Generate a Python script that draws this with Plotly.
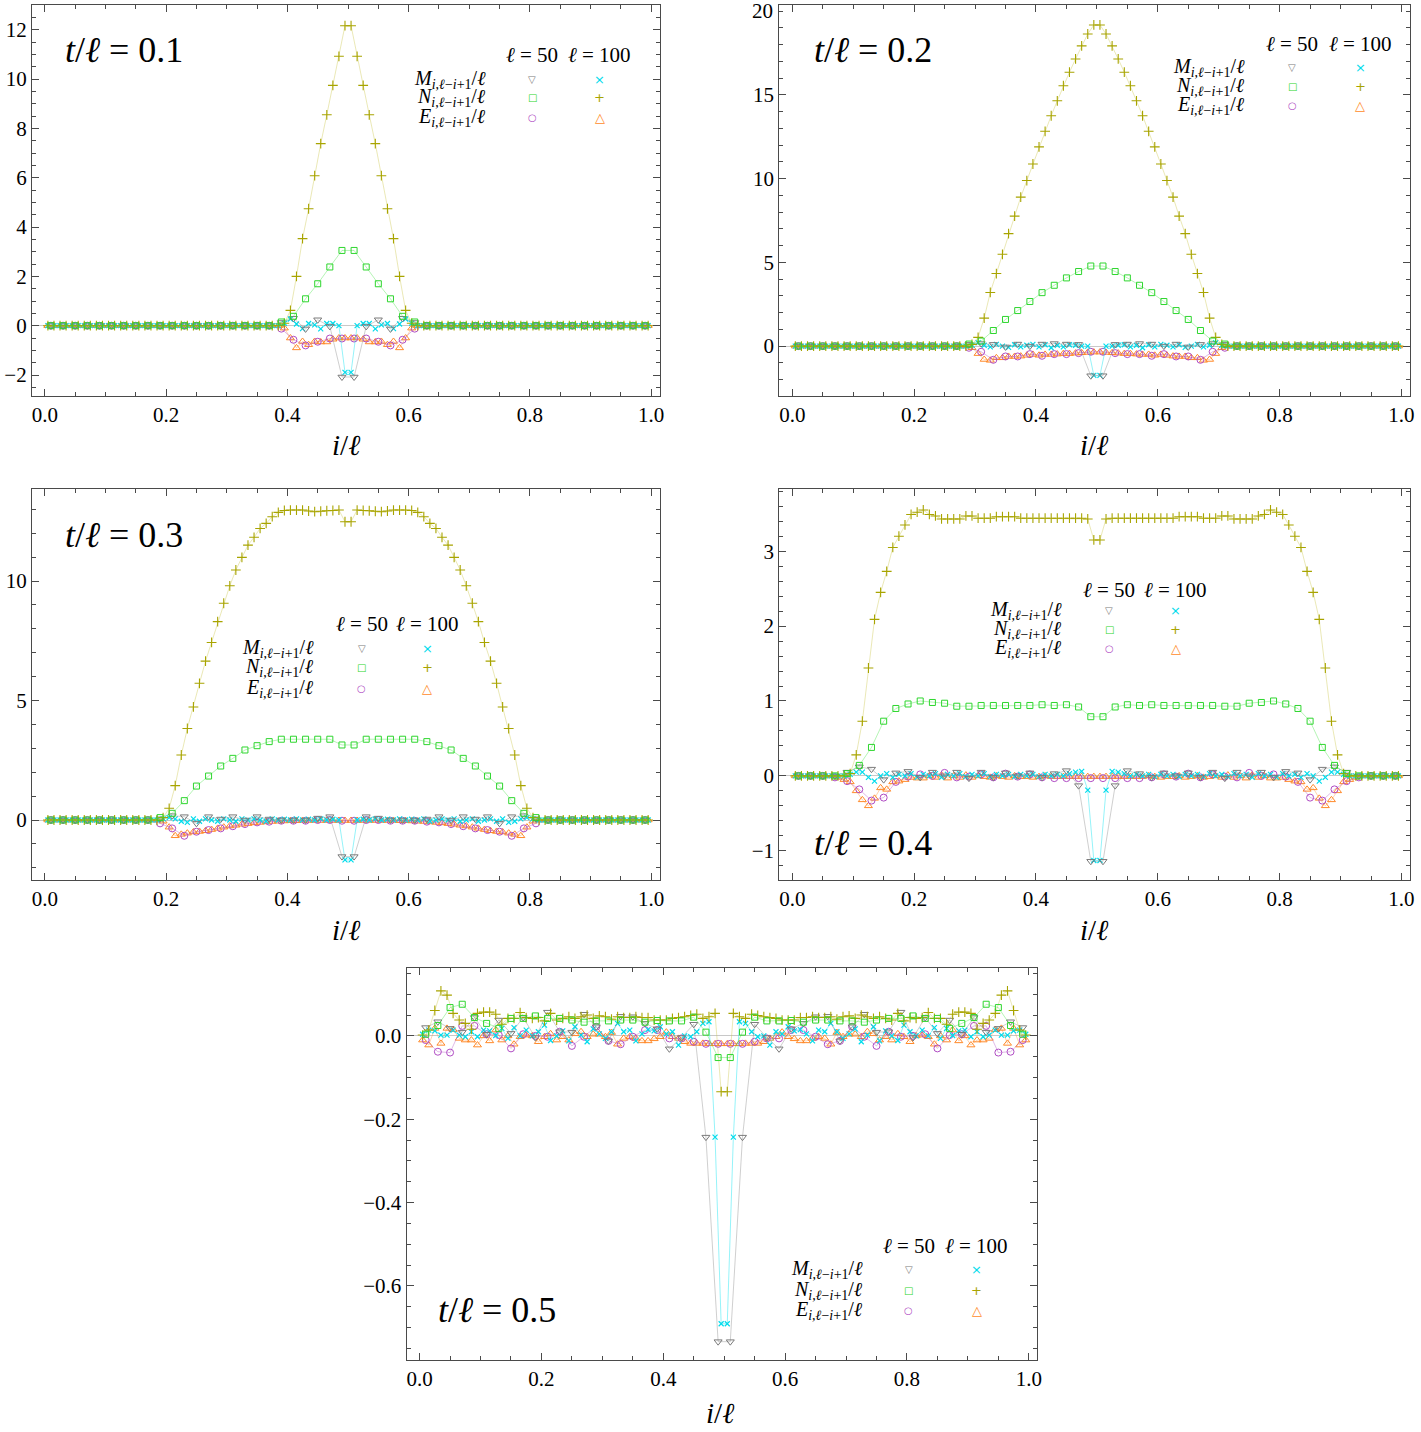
import plotly.graph_objects as go

W, H = 1421, 1432
SERIF = "Liberation Serif"

# ---------------- categories (site positions i/l) ----------------
X50 = [(j - 0.5) / 50 for j in range(1, 51)]
X100 = [(i - 0.5) / 100 for i in range(1, 101)]
T_VALUES = ["0.1", "0.2", "0.3", "0.4", "0.5"]

# ---------------- panel 1 : t/l = 0.1 ----------------
P1_M50 = [0.0] * 19 + [0.13, 0.3, -0.13, 0.24, -0.03, -2.08, -2.08, -0.03, 0.24, -0.13, 0.3, 0.13] + [0.0] * 19
P1_N50 = [0.0] * 19 + [0.15, 0.38, 1.09, 1.70, 2.38, 3.05, 3.05, 2.38, 1.70, 1.09, 0.38, 0.15] + [0.0] * 19
P1_E50 = [0.0] * 19 + [-0.12, -0.57, -0.8, -0.65, -0.52, -0.52, -0.52, -0.52, -0.65, -0.8, -0.57, -0.12] + [0.0] * 19
P1_M100 = [0.0] * 39 + [0.1, 0.27, 0.07, -0.12, 0.09, 0.03, -0.13, 0.09, 0.09, 0.0, -1.89,
                        -1.89, 0.0, 0.09, 0.09, -0.13, 0.03, 0.09, -0.12, 0.07, 0.27, 0.1] + [0.0] * 39
P1_N100 = [0.0] * 39 + [0.1, 0.62, 2.0, 3.53, 4.74, 6.08, 7.38, 8.55, 9.74, 10.92, 12.16,
                        12.16, 10.92, 9.74, 8.55, 7.38, 6.08, 4.74, 3.53, 2.0, 0.62, 0.1] + [0.0] * 39
P1_E100 = [0.0] * 39 + [-0.1, -0.5, -0.9, -0.64, -0.77, -0.64, -0.66, -0.66, -0.55, -0.5, -0.5,
                        -0.5, -0.5, -0.55, -0.66, -0.66, -0.64, -0.77, -0.64, -0.9, -0.5, -0.1] + [0.0] * 39

# ---------------- panel 2 : t/l = 0.2 ----------------
P2_M50 = [0.0] * 14 + [0.1, 0.15, 0.1, -0.05, 0.12, 0.0, 0.12, 0.15, 0.12, 0.1, -1.77,
                       -1.77, 0.1, 0.12, 0.15, 0.12, 0.0, 0.12, -0.05, 0.1, 0.15, 0.1] + [0.0] * 14
P2_N50 = [0.0] * 14 + [0.12, 0.3, 0.93, 1.59, 2.12, 2.66, 3.19, 3.63, 4.07, 4.45, 4.78,
                       4.78, 4.45, 4.07, 3.63, 3.19, 2.66, 2.12, 1.59, 0.93, 0.3, 0.12] + [0.0] * 14
P2_E50 = [0.0] * 14 + [-0.1, -0.34, -0.82, -0.62, -0.62, -0.48, -0.58, -0.48, -0.48, -0.42, -0.34,
                       -0.34, -0.42, -0.48, -0.48, -0.58, -0.48, -0.62, -0.62, -0.82, -0.34, -0.1] + [0.0] * 14
P2_M100 = [0.0] * 29 + [0.05, 0.2, 0.05, -0.05, 0.1, 0.0, -0.08, 0.08, -0.05, 0.05, 0.1, -0.05, 0.08, -0.1,
                        0.05, -0.05, 0.08, 0.05, 0.0, 0.0, -1.75,
                        -1.75, 0.0, 0.0, 0.05, 0.08, -0.05, 0.05, -0.1, 0.08, -0.05, 0.1, 0.05, -0.05,
                        0.08, -0.08, 0.0, 0.1, -0.05, 0.05, 0.2, 0.05] + [0.0] * 29
P2_N100 = [0.0] * 29 + [0.1, 0.52, 1.67, 3.2, 4.33, 5.48, 6.71, 7.76, 8.89, 9.88, 10.87, 11.89, 12.82,
                        13.75, 14.64, 15.54, 16.35, 17.14, 17.92, 18.63, 19.17,
                        19.17, 18.63, 17.92, 17.14, 16.35, 15.54, 14.64, 13.75, 12.82, 11.89, 10.87,
                        9.88, 8.89, 7.76, 6.71, 5.48, 4.33, 3.2, 1.67, 0.52, 0.1] + [0.0] * 29
P2_E100 = [0.0] * 29 + [-0.1, -0.45, -0.8, -0.85, -0.7, -0.7, -0.62, -0.62, -0.6, -0.55, -0.5, -0.55,
                        -0.5, -0.5, -0.48, -0.45, -0.45, -0.42, -0.4, -0.38, -0.36,
                        -0.36, -0.38, -0.4, -0.42, -0.45, -0.45, -0.48, -0.5, -0.5, -0.55, -0.5,
                        -0.55, -0.6, -0.62, -0.62, -0.7, -0.7, -0.85, -0.8, -0.45, -0.1] + [0.0] * 29

# ---------------- panel 3 : t/l = 0.3 ----------------
P3_M50 = [0.0] * 9 + [0.05, 0.18, 0.14, -0.14, 0.14, 0.04, 0.14, 0.0, 0.14, 0.04, 0.0, 0.0, 0.0, 0.08, 0.14, -1.53,
                      -1.53, 0.14, 0.08, 0.0, 0.0, 0.0, 0.04, 0.14, 0.0, 0.14, 0.04, 0.14, -0.14, 0.14, 0.18, 0.05] + [0.0] * 9
P3_N50 = [0.0] * 9 + [0.1, 0.28, 0.81, 1.42, 1.84, 2.26, 2.58, 2.93, 3.11, 3.28, 3.38, 3.38, 3.38, 3.38, 3.38, 3.14,
                      3.14, 3.38, 3.38, 3.38, 3.38, 3.38, 3.28, 3.11, 2.93, 2.58, 2.26, 1.84, 1.42, 0.81, 0.28, 0.1] + [0.0] * 9
P3_E50 = [0.0] * 9 + [-0.14, -0.35, -0.66, -0.49, -0.42, -0.35, -0.26, -0.17, -0.1, -0.07, -0.03, -0.03, -0.03, 0.0, 0.0, -0.03,
                      -0.03, 0.0, 0.0, -0.03, -0.03, -0.03, -0.07, -0.1, -0.17, -0.26, -0.35, -0.42, -0.49, -0.66, -0.35, -0.14] + [0.0] * 9
P3_M100 = [0.0] * 19 + [0.05, 0.1, 0.05, -0.05, -0.1, 0.05, -0.05, 0.05, 0.0, -0.05, 0.05, 0.0, -0.05, 0.05, 0.0,
                        0.05, 0.0, -0.05, 0.05, 0.0, 0.03, 0.0, 0.05, 0.0, 0.03, 0.0, 0.05, 0.0, 0.03, 0.0, -1.67,
                        -1.67, 0.0, 0.03, 0.0, 0.05, 0.0, 0.03, 0.0, 0.05, 0.0, 0.03, 0.0, 0.05, -0.05, 0.0,
                        0.05, 0.0, 0.05, -0.05, 0.0, 0.05, -0.05, 0.0, 0.05, -0.05, 0.05, -0.1, -0.05, 0.05, 0.1, 0.05] + [0.0] * 19
P3_N100 = [0.0] * 19 + [0.1, 0.49, 1.44, 2.72, 3.83, 4.73, 5.72, 6.65, 7.43, 8.3, 9.07, 9.8, 10.46, 10.99, 11.5,
                        11.83, 12.2, 12.41, 12.69, 12.87, 12.95, 12.97, 12.97, 12.97, 12.93, 12.9, 12.92, 12.94, 12.95, 12.97, 12.48,
                        12.48, 12.97, 12.95, 12.94, 12.92, 12.9, 12.93, 12.97, 12.97, 12.97, 12.95, 12.87, 12.69, 12.41, 12.2,
                        11.83, 11.5, 10.99, 10.46, 9.8, 9.07, 8.3, 7.43, 6.65, 5.72, 4.73, 3.83, 2.72, 1.44, 0.49, 0.1] + [0.0] * 19
P3_E100 = [0.0] * 19 + [-0.05, -0.3, -0.66, -0.6, -0.55, -0.5, -0.48, -0.45, -0.4, -0.35, -0.3, -0.25, -0.22, -0.18, -0.15,
                        -0.12, -0.1, -0.08, -0.06, -0.05, -0.04, -0.03, -0.03, -0.02, -0.02, -0.02, -0.02, -0.02, -0.02, -0.02, -0.02,
                        -0.02, -0.02, -0.02, -0.02, -0.02, -0.02, -0.02, -0.02, -0.03, -0.03, -0.04, -0.05, -0.06, -0.08, -0.1,
                        -0.12, -0.15, -0.18, -0.22, -0.25, -0.3, -0.35, -0.4, -0.45, -0.48, -0.5, -0.55, -0.6, -0.66, -0.3, -0.05] + [0.0] * 19

# ---------------- panel 4 : t/l = 0.4 ----------------
P4_M50 = [0.0, 0.0, 0.0, 0.0, 0.05, 0.12, 0.09, -0.05, 0.04, 0.06, -0.02, 0.05, 0.0, 0.05, -0.03, 0.05, -0.02,
          0.04, 0.0, 0.04, -0.02, 0.03, 0.07, -0.13, -1.14,
          -1.14, -0.13, 0.07, 0.03, -0.02, 0.04, 0.0, 0.04, -0.02, 0.05, -0.03, 0.05, 0.0, 0.05, -0.02, 0.06,
          0.04, -0.05, 0.09, 0.12, 0.05, 0.0, 0.0, 0.0, 0.0]
P4_N50 = [0.0, 0.0, 0.0, 0.0, 0.03, 0.14, 0.38, 0.73, 0.9, 0.96, 1.0, 0.98, 0.97, 0.93, 0.93, 0.94, 0.94, 0.94,
          0.94, 0.94, 0.95, 0.94, 0.95, 0.92, 0.79,
          0.79, 0.92, 0.95, 0.94, 0.95, 0.94, 0.94, 0.94, 0.94, 0.94, 0.93, 0.93, 0.97, 0.98, 1.0, 0.96, 0.9,
          0.73, 0.38, 0.14, 0.03, 0.0, 0.0, 0.0, 0.0]
P4_E50 = [0.0, 0.0, 0.0, -0.02, -0.07, -0.18, -0.33, -0.29, -0.08, -0.01, 0.02, 0.0, 0.04, -0.02, -0.01, 0.02,
          -0.02, 0.03, -0.01, 0.02, -0.02, -0.03, -0.03, -0.03, -0.03,
          -0.03, -0.03, -0.03, -0.03, -0.02, 0.02, -0.01, 0.03, -0.02, 0.02, -0.01, -0.02, 0.04, 0.0, 0.02,
          -0.01, -0.08, -0.29, -0.33, -0.18, -0.07, -0.02, 0.0, 0.0, 0.0]
P4_M100 = [0.0] * 9 + [0.02, 0.05, 0.05, -0.02, -0.07, 0.0, 0.03, -0.02, 0.02, 0.0, 0.03, -0.02, 0.02, 0.0,
                       0.03, -0.02, 0.02, 0.0, 0.03, -0.01, 0.02, 0.0, 0.03, -0.01, 0.02, 0.0, 0.02, -0.01, 0.02,
                       0.0, 0.02, -0.01, 0.02, 0.0, 0.02, 0.0, 0.03, 0.05, 0.06, -0.19, -1.13,
                       -1.13, -0.19, 0.06, 0.05, 0.03, 0.0, 0.02, 0.0, 0.02, -0.01, 0.02, 0.0, 0.02, -0.01, 0.02,
                       0.0, 0.02, -0.01, 0.03, 0.0, 0.02, -0.01, 0.03, 0.0, 0.02, -0.02, 0.03, 0.0, 0.02, -0.02,
                       0.03, 0.0, 0.02, -0.02, 0.03, 0.0, -0.07, -0.02, 0.05, 0.05, 0.02] + [0.0] * 9
P4_N100 = [0.0] * 9 + [0.03, 0.28, 0.73, 1.44, 2.09, 2.45, 2.73, 3.05, 3.2, 3.35, 3.49, 3.52, 3.55, 3.49, 3.47,
                       3.43, 3.43, 3.43, 3.43, 3.47, 3.47, 3.44, 3.44, 3.44, 3.46, 3.46, 3.46, 3.46, 3.44, 3.44,
                       3.44, 3.44, 3.44, 3.44, 3.44, 3.44, 3.44, 3.44, 3.44, 3.43, 3.15,
                       3.15, 3.43, 3.44, 3.44, 3.44, 3.44, 3.44, 3.44, 3.44, 3.44, 3.44, 3.44, 3.44, 3.46,
                       3.46, 3.46, 3.46, 3.44, 3.44, 3.44, 3.47, 3.47, 3.43, 3.43, 3.43, 3.43, 3.47, 3.49, 3.55,
                       3.52, 3.49, 3.35, 3.2, 3.05, 2.73, 2.45, 2.09, 1.44, 0.73, 0.28, 0.03] + [0.0] * 9
P4_E100 = [0.0] * 7 + [-0.02, -0.05, -0.08, -0.2, -0.32, -0.4, -0.3, -0.16, -0.18, -0.08, -0.07, -0.05, -0.02,
                       -0.03, -0.03, 0.0, -0.02, 0.01, -0.03, 0.0, -0.02, 0.01, -0.02, 0.0, -0.01, -0.02, 0.0,
                       -0.01, -0.02, 0.0, -0.01, -0.01, -0.02, -0.01, 0.0, -0.01, -0.01, -0.01, -0.01, -0.01,
                       -0.01, -0.01, -0.01,
                       -0.01, -0.01, -0.01, -0.01, -0.01, -0.01, -0.01, -0.01, 0.0, -0.01, -0.02, -0.01, -0.01,
                       0.0, -0.02, -0.01, 0.0, -0.02, -0.01, 0.0, -0.02, 0.01, -0.02, 0.0, -0.03, 0.01, -0.02,
                       0.0, -0.03, -0.03, -0.02, -0.05, -0.07, -0.08, -0.18, -0.16, -0.3, -0.4, -0.32, -0.2,
                       -0.08, -0.05, -0.02] + [0.0] * 7

# ---------------- panel 5 : t/l = 0.5 ----------------
P5_M50 = [0.02, 0.034, 0.018, 0.009, 0.044, 0.004, 0.038, 0.006, 0.044, -0.004, 0.057, 0.01, 0.009, 0.052,
          0.022, -0.012, 0.047, 0.046, 0.03, 0.017, -0.031, -0.004, 0.028, -0.243, -0.734,
          -0.734, -0.243, 0.028, -0.004, -0.031, 0.017, 0.03, 0.046, 0.047, -0.012, 0.022, 0.052, 0.009,
          0.01, 0.057, -0.004, 0.044, 0.006, 0.038, 0.004, 0.044, 0.009, 0.018, 0.034, 0.02]
P5_N50 = [0.004, 0.025, 0.068, 0.076, 0.044, 0.03, 0.018, 0.042, 0.042, 0.048, 0.042, 0.042, 0.038, 0.033,
          0.036, 0.036, 0.038, 0.038, 0.033, 0.037, 0.036, 0.036, 0.045, 0.009, -0.052,
          -0.052, 0.009, 0.045, 0.036, 0.036, 0.037, 0.033, 0.038, 0.038, 0.036, 0.036, 0.033, 0.038, 0.042,
          0.042, 0.048, 0.042, 0.042, 0.018, 0.03, 0.044, 0.076, 0.068, 0.025, 0.004]
P5_E50 = [-0.01, -0.038, -0.04, 0.024, 0.024, 0.004, 0.002, -0.03, 0.004, 0.0, -0.002, 0.01, -0.024, -0.002,
          0.022, -0.012, -0.02, -0.002, 0.014, 0.014, -0.006, -0.006, -0.014, -0.019, -0.019,
          -0.019, -0.019, -0.014, -0.006, -0.006, 0.014, 0.014, -0.002, -0.02, -0.012, 0.022, -0.002, -0.024,
          0.01, -0.002, 0.0, 0.004, -0.03, 0.002, 0.004, 0.024, 0.024, -0.04, -0.038, -0.01]
P5_M100 = [0.004, 0.014, 0.012, 0.002, 0.002, 0.014, 0.002, -0.002, 0.01, -0.002,
           0.014, 0.012, 0.001, 0.018, -0.006, 0.02, 0.0, 0.014, 0.0, 0.01,
           0.026, -0.011, 0.0, 0.012, -0.012, 0.022, 0.002, -0.014, 0.017, 0.005,
           -0.006, 0.01, 0.03, 0.01, 0.014, -0.012, 0.005, 0.015, 0.012, 0.022,
           0.005, 0.01, -0.022, 0.0, -0.002, 0.01, 0.03, 0.034, -0.243, -0.691,
           -0.691, -0.243, 0.034, 0.03, 0.01, -0.002, 0.0, -0.022, 0.01, 0.005,
           0.022, 0.012, 0.015, 0.005, -0.012, 0.014, 0.01, 0.03, 0.01, -0.006,
           0.005, 0.017, -0.014, 0.002, 0.022, -0.012, 0.012, 0.0, -0.011, 0.026,
           0.01, 0.0, 0.014, 0.0, 0.02, -0.006, 0.018, 0.001, 0.012, 0.014,
           -0.002, 0.01, -0.002, 0.002, 0.014, 0.002, 0.002, 0.012, 0.014, 0.004]
P5_N100 = [0.002, 0.014, 0.061, 0.108, 0.098, 0.054, 0.038, 0.03, 0.016, 0.054,
           0.057, 0.057, 0.052, 0.028, 0.042, 0.042, 0.056, 0.044, 0.042, 0.044,
           0.036, 0.054, 0.038, 0.042, 0.046, 0.042, 0.046, 0.05, 0.042, 0.048,
           0.046, 0.04, 0.046, 0.044, 0.044, 0.046, 0.044, 0.044, 0.038, 0.038,
           0.038, 0.042, 0.044, 0.046, 0.049, 0.052, 0.042, 0.046, 0.054, -0.134,
           -0.134, 0.054, 0.046, 0.042, 0.052, 0.049, 0.046, 0.044, 0.042, 0.038,
           0.038, 0.038, 0.044, 0.044, 0.046, 0.044, 0.044, 0.046, 0.04, 0.046,
           0.048, 0.042, 0.05, 0.046, 0.042, 0.046, 0.042, 0.038, 0.054, 0.036,
           0.044, 0.042, 0.044, 0.056, 0.042, 0.042, 0.028, 0.052, 0.057, 0.057,
           0.054, 0.016, 0.03, 0.038, 0.054, 0.098, 0.108, 0.061, 0.014, 0.002]
P5_E100 = [-0.01, -0.022, 0.018, -0.018, 0.018, 0.015, -0.006, -0.01, -0.01, -0.022,
           0.0, -0.012, 0.014, -0.01, 0.0, -0.02, -0.002, 0.002, 0.0, -0.014,
           -0.002, 0.005, -0.01, -0.002, -0.01, 0.005, 0.01, -0.002, 0.004, 0.004,
           -0.002, 0.008, -0.02, -0.006, -0.002, -0.006, -0.012, -0.012, -0.007, -0.002,
           0.009, -0.002, -0.006, -0.014, -0.018, -0.018, -0.018, -0.019, -0.019, -0.019,
           -0.019, -0.019, -0.019, -0.018, -0.018, -0.018, -0.014, -0.006, -0.002, 0.009,
           -0.002, -0.007, -0.012, -0.012, -0.006, -0.002, -0.006, -0.02, 0.008, -0.002,
           0.004, 0.004, -0.002, 0.01, 0.005, -0.01, -0.002, -0.01, 0.005, -0.002,
           -0.014, 0.0, 0.002, -0.002, -0.02, 0.0, -0.01, 0.014, -0.012, 0.0,
           -0.022, -0.01, -0.01, -0.006, 0.015, 0.018, -0.018, 0.018, -0.022, -0.01]

# ---------------- styles ----------------
STYLE = {
    "E100": dict(c="#ff8a2a", lc="rgba(255,150,60,0.6)", sym="triangle-up-open", size=7, lw=1.0),
    "E50": dict(c="#b04cc4", lc="rgba(180,90,200,0.6)", sym="circle-open", size=7, lw=1.0),
    "M100": dict(c="#00dcec", lc="rgba(0,225,240,0.6)", sym="x-thin", size=5, lw=1.2),
    "M50": dict(c="#7a7a7a", lc="rgba(130,130,130,0.55)", sym="triangle-down-open", size=7, lw=1.0),
    "N100": dict(c="#a8a400", lc="rgba(205,200,80,0.6)", sym="cross-thin", size=7, lw=1.1),
    "N50": dict(c="#2ed62e", lc="rgba(60,225,60,0.55)", sym="square-open", size=6, lw=1.0),
}

PANELS = [
    dict(data=dict(M50=P1_M50, N50=P1_N50, E50=P1_E50, M100=P1_M100, N100=P1_N100, E100=P1_E100),
         xd=(32, 662), yd=(5, 396), yr=(-2.85, 13.0), dt=2, mdt=0.5, fmt="",
         title=(63, 50), leg=(490, 534, 602, 55, (79, 98, 118)), xl=(347, 445)),
    dict(data=dict(M50=P2_M50, N50=P2_N50, E50=P2_E50, M100=P2_M100, N100=P2_N100, E100=P2_E100),
         xd=(782, 1415), yd=(5, 396), yr=(-2.98, 20.36), dt=5, mdt=1, fmt="",
         title=(815, 50), leg=(1251, 1297, 1365, 44, (68, 87, 106)), xl=(1098, 445)),
    dict(data=dict(M50=P3_M50, N50=P3_N50, E50=P3_E50, M100=P3_M100, N100=P3_N100, E100=P3_E100),
         xd=(32, 662), yd=(489, 880), yr=(-2.51, 13.85), dt=5, mdt=1, fmt="",
         title=(63, 535), leg=(317, 363, 429, 624, (648, 668, 688)), xl=(347, 930)),
    dict(data=dict(M50=P4_M50, N50=P4_N50, E50=P4_E50, M100=P4_M100, N100=P4_N100, E100=P4_E100),
         xd=(782, 1415), yd=(489, 880), yr=(-1.39, 3.83), dt=1, mdt=0.2, fmt="",
         title=(815, 843), leg=(1068, 1113, 1180, 590, (610, 629, 648)), xl=(1098, 930)),
    dict(data=dict(M50=P5_M50, N50=P5_N50, E50=P5_E50, M100=P5_M100, N100=P5_N100, E100=P5_E100),
         xd=(408, 1041), yd=(968, 1360), yr=(-0.778, 0.163), dt=0.2, mdt=0.05, fmt=".1f",
         title=(438, 1310), leg=(868, 912, 980, 1246, (1269, 1290, 1310)), xl=(723, 1413)),
]


def px(x):
    return x / W


def py(y):
    return 1 - y / H


fig = go.Figure()
annotations = []
FRAME = "#4a4a4a"

for k, p in enumerate(PANELS, 1):
    xname = "x" if k == 1 else f"x{k}"
    yname = "y" if k == 1 else f"y{k}"
    for key in ["E100", "E50", "M100", "M50", "N100", "N50"]:
        s = STYLE[key]
        xs = X100 if key.endswith("100") else X50
        fig.add_trace(go.Scatter(
            x=xs, y=p["data"][key], mode="lines+markers",
            line=dict(color=s["lc"], width=0.7),
            marker=dict(symbol=s["sym"], size=s["size"], color=s["c"],
                        line=dict(color=s["c"], width=s["lw"])),
            xaxis=xname, yaxis=yname, showlegend=False, hoverinfo="skip"))

    ax_common = dict(ticks="inside", ticklen=7, tickwidth=1, tickcolor=FRAME,
                     showline=True, linecolor=FRAME, linewidth=1, mirror="allticks",
                     showgrid=False,
                     tickfont=dict(family=SERIF, size=21, color="black"))
    xa = dict(ax_common, domain=[px(p["xd"][0]), px(p["xd"][1])], range=[-0.0214, 1.014],
              tick0=0, dtick=0.2, tickformat=".1f", zeroline=False, anchor=yname,
              minor=dict(ticks="inside", dtick=0.05, tick0=0, ticklen=4, tickcolor=FRAME))
    ya = dict(ax_common, domain=[py(p["yd"][1]), py(p["yd"][0])], range=list(p["yr"]),
              tick0=0, dtick=p["dt"], zeroline=True, zerolinecolor="#c8c8c8", zerolinewidth=1,
              anchor=xname,
              minor=dict(ticks="inside", dtick=p["mdt"], tick0=0, ticklen=4, tickcolor=FRAME))
    if p["fmt"]:
        ya["tickformat"] = p["fmt"]
    if k == 2:
        # top label "20" sits at the very edge of the page: keep it inside the page
        ya["tickvals"] = [0, 5, 10, 15]
    fig.update_layout(**{("xaxis" if k == 1 else f"xaxis{k}"): xa,
                         ("yaxis" if k == 1 else f"yaxis{k}"): ya})

    if k == 2:
        annotations.append(dict(x=px(p["xd"][0] - 4), y=20, xref="paper", yref="y2", text="20",
                                showarrow=False, xanchor="right", yanchor="middle",
                                font=dict(family=SERIF, size=21, color="black")))

    # panel title
    annotations.append(dict(x=px(p["title"][0]), y=py(p["title"][1]), xref="paper", yref="paper",
                            text=f"<i>t</i>/<i>ℓ</i> = {T_VALUES[k-1]}", showarrow=False,
                            xanchor="left", yanchor="middle",
                            font=dict(family=SERIF, size=36, color="black")))
    # x-axis label
    annotations.append(dict(x=px(p["xl"][0]), y=py(p["xl"][1]), xref="paper", yref="paper",
                            text="<i>i</i>/<i>ℓ</i>", showarrow=False, xanchor="center", yanchor="middle",
                            font=dict(family=SERIF, size=29, color="black")))
    # custom legend
    lr, c1, c2, hy, rows = p["leg"]
    for cx, txt in [(c1, "<i>ℓ</i> = 50"), (c2, "<i>ℓ</i> = 100")]:
        annotations.append(dict(x=px(cx), y=py(hy), xref="paper", yref="paper", text=txt,
                                showarrow=False, xanchor="center", yanchor="middle",
                                font=dict(family=SERIF, size=21, color="black")))
    labels = ["M", "N", "E"]
    glyphs = [("▽", STYLE["M50"]["c"], "×", STYLE["M100"]["c"]),
              ("□", STYLE["N50"]["c"], "+", STYLE["N100"]["c"]),
              ("○", STYLE["E50"]["c"], "△", STYLE["E100"]["c"])]
    for r, ry in enumerate(rows):
        annotations.append(dict(x=px(lr), y=py(ry), xref="paper", yref="paper",
                                text=f"<i>{labels[r]}</i><sub><i>i</i>,<i>ℓ</i>−<i>i</i>+1</sub>/<i>ℓ</i>",
                                showarrow=False, xanchor="right", yanchor="middle",
                                font=dict(family=SERIF, size=20, color="black")))
        g1, col1, g2, col2 = glyphs[r]
        annotations.append(dict(x=px(c1), y=py(ry), xref="paper", yref="paper", text=g1,
                                showarrow=False, xanchor="center", yanchor="middle",
                                font=dict(family="DejaVu Sans", size=10, color=col1)))
        annotations.append(dict(x=px(c2), y=py(ry), xref="paper", yref="paper", text=g2,
                                showarrow=False, xanchor="center", yanchor="middle",
                                font=dict(family="DejaVu Sans", size=13, color=col2)))

fig.update_layout(width=W, height=H, margin=dict(l=0, r=0, t=0, b=0),
                  paper_bgcolor="white", plot_bgcolor="white",
                  annotations=annotations, showlegend=False)

fig.write_html("out.html")
